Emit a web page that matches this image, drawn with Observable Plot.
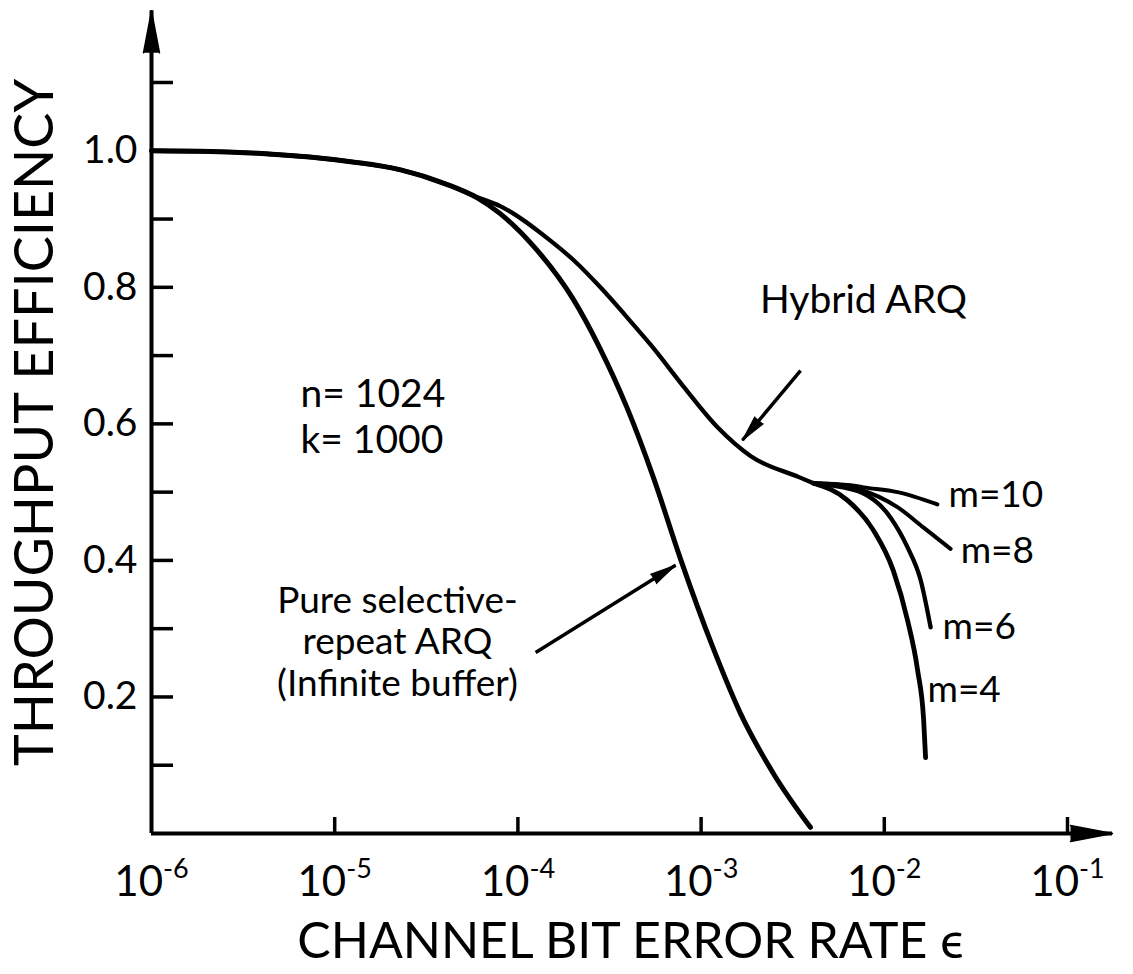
<!DOCTYPE html>
<html><head><meta charset="utf-8">
<script src="https://cdn.jsdelivr.net/npm/d3@7"></script>
<script src="https://cdn.jsdelivr.net/npm/@observablehq/plot@0.6"></script>
<style>
html,body{margin:0;padding:0;background:#fff;}
svg{display:block;}
</style></head><body><div id="chart"></div>
<script>
// ---- data ----
const xTickValues = [1e-6, 1e-5, 1e-4, 1e-3, 1e-2, 1e-1];
const yTickValues = [0.1, 0.2, 0.3, 0.4, 0.5, 0.6, 0.7, 0.8, 0.9, 1.0, 1.1];
const yLabelValues = [0.2, 0.4, 0.6, 0.8, 1.0];

const pureEps = [1.0e-6, 2.1e-6, 4.0e-6, 1.22e-5, 2.29e-5, 3.98e-5, 6.0e-5, 8.0e-5, 1.22e-4, 2.0e-4, 2.8e-4, 3.95e-4, 5.5e-4, 7.7e-4, 1.17e-3, 1.64e-3, 2.48e-3, 3.95e-3];
const pureEff = [1.0, 0.999, 0.996, 0.984, 0.972, 0.952, 0.931, 0.908, 0.860, 0.783, 0.711, 0.623, 0.521, 0.403, 0.270, 0.176, 0.088, 0.009];

const hybridEps = [1.0e-6, 2.1e-6, 4.0e-6, 1.22e-5, 2.29e-5, 3.98e-5, 6.0e-5, 8.0e-5, 1.51e-4, 2.01e-4, 2.82e-4, 4.28e-4, 5.3e-4, 8.0e-4, 1.23e-3, 1.86e-3, 3.42e-3, 4.11e-3];
const hybridEff = [1.0, 0.999, 0.996, 0.984, 0.972, 0.952, 0.932, 0.919, 0.868, 0.840, 0.800, 0.745, 0.716, 0.655, 0.595, 0.553, 0.522, 0.513];

const m10Eps = [4.11e-3, 6.55e-3, 7.71e-3, 1.18e-2, 1.95e-2];
const m10Eff = [0.513, 0.510, 0.507, 0.500, 0.482];
const m8Eps = [4.11e-3, 5.6e-3, 7.14e-3, 1.18e-2, 1.64e-2, 2.30e-2];
const m8Eff = [0.513, 0.511, 0.505, 0.478, 0.448, 0.417];
const m6Eps = [4.11e-3, 5.08e-3, 7.71e-3, 1.08e-2, 1.34e-2, 1.58e-2, 1.79e-2];
const m6Eff = [0.513, 0.510, 0.498, 0.463, 0.419, 0.371, 0.302];
const m4Eps = [4.11e-3, 6.30e-3, 8.73e-3, 1.12e-2, 1.34e-2, 1.52e-2, 1.64e-2, 1.68e-2];
const m4Eff = [0.513, 0.488, 0.444, 0.385, 0.312, 0.239, 0.166, 0.111];

const mLabels = ["m=10", "m=8", "m=6", "m=4"];
const mLabelEps = [2.24e-2, 2.61e-2, 2.08e-2, 1.72e-2];
const mLabelEff = [0.496, 0.413, 0.302, 0.210];

const notes = ["n= 1024\nk= 1000", "Pure selective-\nrepeat ARQ\n(Infinite buffer)", "Hybrid ARQ"];
const noteEps = [6.5e-6, 2.2e-5, 7.7e-3];
const noteEff = [0.612, 0.282, 0.781];

const pointerFromEps = [3.49e-3, 1.25e-4];
const pointerFromEff = [0.678, 0.265];
const pointerToEps = [1.68e-3, 7.25e-4];
const pointerToEff = [0.576, 0.393];

const xTitle = "CHANNEL BIT ERROR RATE \u03F5";
const yTitle = "THROUGHPUT EFFICIENCY";
const xDomain = [1e-6, 1e-1];
const yDomain = [0, 1.1];
const axisTipEps = 0.176;
const axisTipEff = 1.205;

// ---- build tables ----
const zip = (xs, ys) => xs.map((x, i) => ({eps: x, eff: ys[i]}));
const pure = zip(pureEps, pureEff);
const hybrid = zip(hybridEps, hybridEff);
const m10 = zip(m10Eps, m10Eff), m8 = zip(m8Eps, m8Eff), m6 = zip(m6Eps, m6Eff), m4 = zip(m4Eps, m4Eff);
const labelRows = mLabels.map((t, i) => ({t, eps: mLabelEps[i], eff: mLabelEff[i]}));

const W = 1133, H = 974, mt = 82, mb = 141, ml = 151, mr = 66;
const fw = W - ml - mr, fh = H - mt - mb;
const font = "Lato, 'Open Sans', sans-serif";

// pixel-space direction of pointer arrows (same mapping as the plot's scales)
const sx = d3.scaleLog().domain(xDomain).range([ml, W - mr]);
const sy = d3.scaleLinear().domain(yDomain).range([H - mb, mt]);
const pointers = pointerFromEps.map((x, i) => {
  const dx = sx(pointerToEps[i]) - sx(x), dy = sy(pointerToEff[i]) - sy(pointerFromEff[i]);
  return {x1: x, y1: pointerFromEff[i], x2: pointerToEps[i], y2: pointerToEff[i], angle: Math.atan2(dx, -dy) * 180 / Math.PI};
});

const svg = Plot.plot({
  width: W, height: H,
  marginTop: mt, marginBottom: mb, marginLeft: ml, marginRight: mr,
  style: {fontFamily: font, fontSize: "38px", color: "black", background: "white", overflow: "visible"},
  x: {type: "log", domain: xDomain},
  y: {domain: yDomain},
  marks: [
    // axes lines
    Plot.ruleY([0], {x1: xDomain[0], x2: axisTipEps, stroke: "black", strokeWidth: 4}),
    Plot.ruleX([xDomain[0]], {y1: 0, y2: axisTipEff, stroke: "black", strokeWidth: 4}),
    Plot.vector([0], {x: () => xDomain[0], y: () => axisTipEff, rotate: 0, length: 42, anchor: "end", shape: "spike", r: 8, fill: "black", stroke: "black", strokeWidth: 1.5}),
    Plot.vector([0], {x: () => axisTipEps, y: () => 0, rotate: 90, length: 42, anchor: "end", shape: "spike", r: 8, fill: "black", stroke: "black", strokeWidth: 1.5}),
    // inside ticks
    Plot.ruleX(xTickValues.slice(1), {stroke: "black", strokeWidth: 3.5, insetTop: fh - 16}),
    Plot.ruleY(yTickValues, {stroke: "black", strokeWidth: 3.5, insetRight: fw - 22}),
    Plot.axisX({ticks: xTickValues, tickSize: 0, tickPadding: 33, tickFormat: d => `10^${Math.round(Math.log10(d))}`, label: null, fontSize: 42}),
    Plot.axisY({ticks: yLabelValues, tickSize: 0, tickPadding: 14, tickFormat: d3.format(".1f"), label: null, fontSize: 39}),
    // curves
    Plot.line(pure, {x: "eps", y: "eff", curve: "monotone-x", stroke: "black", strokeWidth: 5}),
    Plot.line(hybrid, {x: "eps", y: "eff", curve: "monotone-x", stroke: "black", strokeWidth: 4.3}),
    Plot.line(m10, {x: "eps", y: "eff", curve: "monotone-x", stroke: "black", strokeWidth: 4}),
    Plot.line(m8, {x: "eps", y: "eff", curve: "monotone-x", stroke: "black", strokeWidth: 4}),
    Plot.line(m6, {x: "eps", y: "eff", curve: "monotone-x", stroke: "black", strokeWidth: 4.3}),
    Plot.line(m4, {x: "eps", y: "eff", curve: "monotone-x", stroke: "black", strokeWidth: 4.8}),
    // annotations
    Plot.text(labelRows, {x: "eps", y: "eff", text: "t", textAnchor: "start", fontSize: 37, fill: "black"}),
    Plot.text([notes[0]], {x: () => noteEps[0], y: () => noteEff[0], text: d => d, textAnchor: "start", fontSize: 39, lineHeight: 1.18, fill: "black"}),
    Plot.text([notes[1]], {x: () => noteEps[1], y: () => noteEff[1], text: d => d, textAnchor: "middle", fontSize: 37, lineHeight: 1.13, fill: "black"}),
    Plot.text([notes[2]], {x: () => noteEps[2], y: () => noteEff[2], text: d => d, textAnchor: "middle", fontSize: 39, fill: "black"}),
    Plot.link(pointers, {x1: "x1", y1: "y1", x2: "x2", y2: "y2", stroke: "black", strokeWidth: 3.5}),
    Plot.vector(pointers, {x: "x2", y: "y2", rotate: "angle", length: 26, anchor: "end", shape: "spike", r: 5.5, fill: "black", stroke: "black", strokeWidth: 1}),
    // titles
    Plot.text([xTitle], {frameAnchor: "bottom", text: d => d, dy: 124, dx: 21, fontSize: 50, fill: "black"}),
    Plot.text([yTitle], {x: () => xDomain[0], y: () => 0.602, text: d => d, dx: -116, rotate: -90, fontSize: 54, fill: "black"})
  ]
});

// superscript exponents on x tick labels
const NS = "http://www.w3.org/2000/svg";
svg.querySelectorAll("text").forEach(t => {
  const m = /^10\^(-?\d+)$/.exec(t.textContent);
  if (!m) return;
  t.textContent = "";
  const a = document.createElementNS(NS, "tspan"); a.textContent = "10";
  const b = document.createElementNS(NS, "tspan"); b.textContent = m[1];
  b.setAttribute("dy", "-18"); b.setAttribute("font-size", "27");
  t.append(a, b);
});
document.getElementById("chart").appendChild(svg);
</script>
</body></html>
